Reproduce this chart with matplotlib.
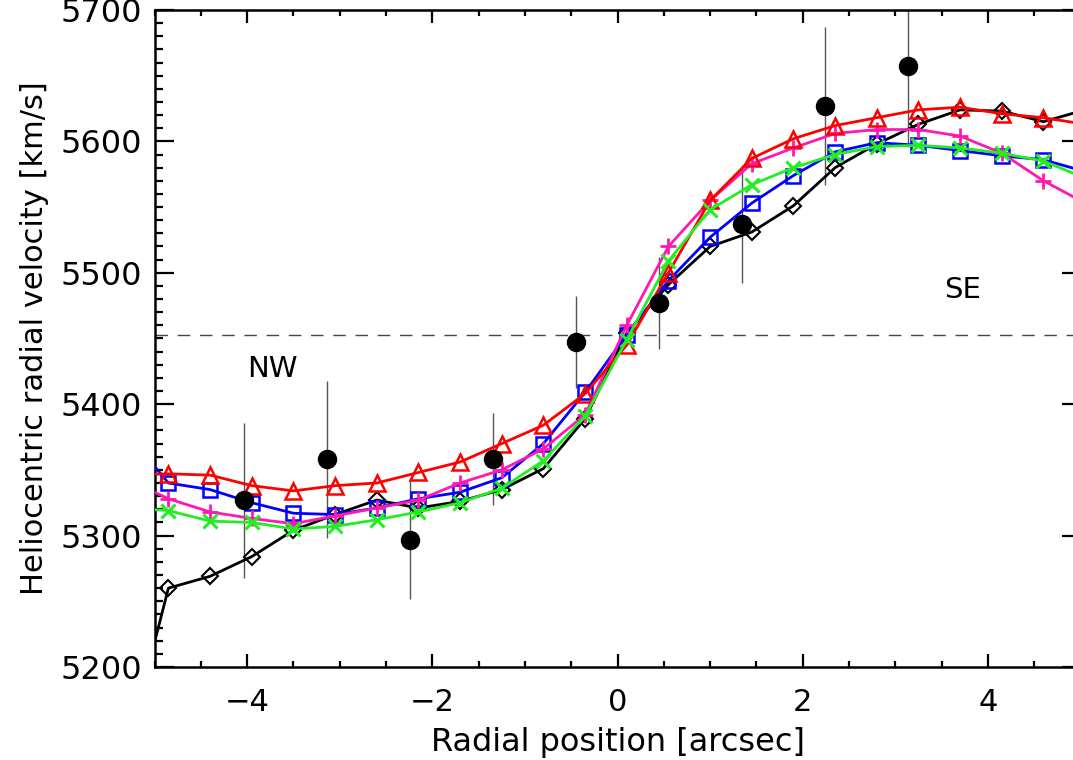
import numpy as np
import matplotlib.pyplot as plt
from matplotlib.ticker import MultipleLocator

# model positions (arcsec), first/last points lie outside the plotted range
xpos = [-5.30, -4.85, -4.40, -3.95, -3.50, -3.05, -2.60, -2.15, -1.70, -1.25,
        -0.80, -0.35, 0.10, 0.55, 1.00, 1.45, 1.90, 2.35, 2.80, 3.25, 3.70,
        4.15, 4.60, 5.05]

v_black = [5136, 5260, 5269, 5284, 5304, 5316, 5327, 5321, 5326, 5335,
           5351, 5389, 5454, 5491, 5520, 5531, 5551, 5580, 5598, 5613, 5624,
           5623, 5615, 5624]
v_red = [5346, 5347, 5346, 5338, 5334, 5338, 5340, 5348, 5356, 5370,
         5384, 5408, 5445, 5500, 5555, 5587, 5602, 5612, 5618, 5624, 5626,
         5621, 5618, 5613]
v_blue = [5378, 5340, 5335, 5325, 5317, 5316, 5321, 5328, 5333, 5344,
          5370, 5409, 5453, 5494, 5527, 5553, 5574, 5592, 5599, 5597, 5593,
          5589, 5586, 5577]
v_magenta = [5343, 5328, 5318, 5313, 5309, 5315, 5321, 5327, 5340, 5350,
             5366, 5392, 5460, 5520, 5555, 5583, 5595, 5606, 5609, 5609, 5604,
             5591, 5570, 5553]
v_green = [5321, 5319, 5311, 5310, 5305, 5307, 5312, 5318, 5325, 5336,
           5357, 5391, 5449, 5509, 5548, 5567, 5580, 5590, 5596, 5597, 5595,
           5591, 5585, 5572]

# observed velocities with errors
obs_x = [-4.03, -3.14, -2.24, -1.35, -0.45, 0.45, 1.34, 2.24, 3.14]
obs_v = [5327, 5358, 5297, 5358, 5447, 5477, 5537, 5627, 5657]
obs_err = [59, 60, 45, 35, 35, 35, 45, 60, 61]

v_sys = 5453

fig = plt.figure(figsize=(10.73, 7.60), dpi=100)
ax = fig.add_axes([0.144, 0.1224, 0.863, 0.8645])

ax.axhline(v_sys, color='#444444', lw=1.0, ls=(0, (9, 7)), zorder=1)

ax.errorbar(obs_x, obs_v, yerr=obs_err, fmt='none', ecolor='#555555',
            elinewidth=1.0, capsize=0, zorder=2)

ax.plot(xpos, v_black, color='black', lw=2.0, marker='D', ms=8,
        mfc='none', mec='black', mew=1.5, zorder=3)
ax.plot(xpos, v_blue, color='#0000ff', lw=2.0, marker='s', ms=10,
        mfc='none', mec='#0000ff', mew=1.8, zorder=4)
ax.plot(xpos, v_magenta, color='#ff19b0', lw=2.0, marker='+', ms=12,
        mew=2.0, zorder=5)
ax.plot(xpos, v_red, color='#ff0000', lw=2.0, marker='^', ms=11,
        mfc='none', mec='#ff0000', mew=1.8, zorder=6)
ax.plot(xpos, v_green, color='#22ee22', lw=2.0, marker='x', ms=10,
        mew=2.2, zorder=7)

ax.plot(obs_x, obs_v, 'o', color='black', ms=13, zorder=8)

ax.text(-3.73, 5427, 'NW', fontsize=21, ha='center', va='center')
ax.text(3.73, 5487, 'SE', fontsize=21, ha='center', va='center')

ax.set_xlim(-5, 5)
ax.set_ylim(5200, 5700)
ax.xaxis.set_major_locator(MultipleLocator(2))
ax.xaxis.set_minor_locator(MultipleLocator(0.5))
ax.yaxis.set_major_locator(MultipleLocator(100))
ax.yaxis.set_minor_locator(MultipleLocator(10))
ax.tick_params(which='both', direction='in', top=True, right=True, width=1.6)
ax.tick_params(axis='y', which='major', length=14, labelsize=23, pad=9)
ax.tick_params(axis='y', which='minor', length=6)
ax.tick_params(axis='x', which='major', length=9.5, labelsize=22, pad=15)
ax.tick_params(axis='x', which='minor', length=4.5)
for s in ax.spines.values():
    s.set_linewidth(1.8)

ax.set_xlabel('Radial position [arcsec]', fontsize=23, labelpad=7)
ax.set_ylabel('Heliocentric radial velocity [km/s]', fontsize=22, labelpad=8)

fig.savefig('out.png', dpi=100)
